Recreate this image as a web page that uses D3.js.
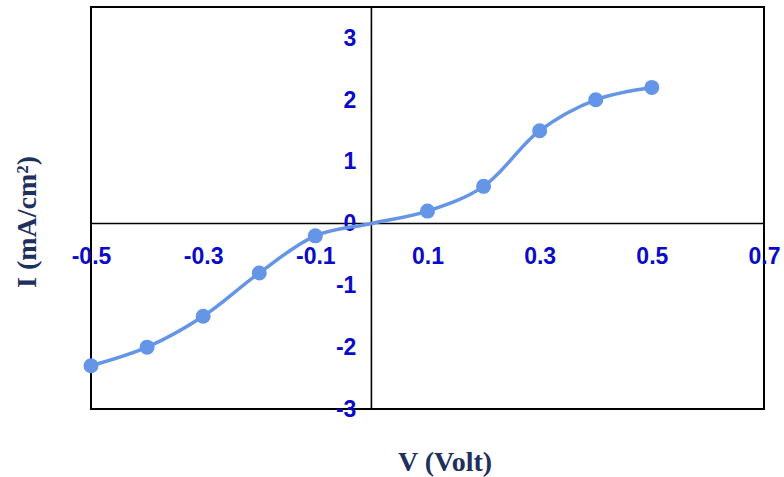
<!DOCTYPE html>
<html>
<head>
<meta charset="utf-8">
<script src="https://cdn.jsdelivr.net/npm/d3@7"></script>
<style>
  body { margin: 0; background: #fff; }
</style>
</head>
<body>
<div id="chart"></div>
<script>
// Data
var voltage = [-0.5, -0.4, -0.3, -0.2, -0.1, 0, 0.1, 0.2, 0.3, 0.4, 0.5];
var current = [-2.3, -2.0, -1.5, -0.8, -0.2, 0, 0.2, 0.6, 1.5, 2.0, 2.2];
var hasMarker = [true, true, true, true, true, false, true, true, true, true, true];
var xTicks = [-0.5, -0.3, -0.1, 0.1, 0.3, 0.5, 0.7];
var yTicks = [-3, -2, -1, 0, 1, 2, 3];

var width = 784, height = 477;
var plotLeft = 91, plotRight = 764, plotTop = 7, plotBottom = 409;

var svg = d3.select('#chart')
            .append('svg')
            .attr('width', width)
            .attr('height', height);

var xScale = d3.scaleLinear().domain([-0.5, 0.7]).range([plotLeft, plotRight]);
var yScale = d3.scaleLinear().domain([-3, 3.5]).range([plotBottom, plotTop]);

var data = voltage.map(function(v, i) {
  return { v: v, i: current[i], m: hasMarker[i] };
});

// plain hyphen minus like the reference
function fmt(p) {
  return function(d) { return d.toFixed(p); };
}

// plot box
svg.append('rect')
   .attr('x', plotLeft).attr('y', plotTop)
   .attr('width', plotRight - plotLeft).attr('height', plotBottom - plotTop)
   .attr('fill', 'none').attr('stroke', '#000').attr('stroke-width', 2);

// axes through zero
var xAxis = d3.axisBottom(xScale)
              .tickValues(xTicks)
              .tickSize(0)
              .tickPadding(24)
              .tickFormat(fmt(1));

var yAxis = d3.axisLeft(yScale)
              .tickValues(yTicks)
              .tickSize(0)
              .tickPadding(15)
              .tickFormat(fmt(0));

var gx = svg.append('g')
   .attr('transform', 'translate(0,' + yScale(0) + ')')
   .call(xAxis);

var gy = svg.append('g')
   .attr('transform', 'translate(' + xScale(0) + ',0)')
   .call(yAxis);

[gx, gy].forEach(function(g) {
  g.select('.domain').attr('stroke', '#000').attr('stroke-width', 1.6);
  g.selectAll('text')
   .attr('fill', '#0a0ac8')
   .style('font-family', '"Liberation Sans", Arial, sans-serif')
   .style('font-weight', 'bold')
   .style('font-size', '23px');
});
gx.select('.domain').attr('d', 'M' + plotLeft + ',0H' + plotRight);
gy.select('.domain').attr('d', 'M0,' + plotTop + 'V' + plotBottom);

// curve
var line = d3.line()
             .x(function(d) { return xScale(d.v); })
             .y(function(d) { return yScale(d.i); })
             .curve(d3.curveCatmullRom.alpha(0.5));

svg.append('path')
   .datum(data)
   .attr('d', line)
   .attr('fill', 'none')
   .attr('stroke', '#6495e6')
   .attr('stroke-width', 3.5);

svg.append('g')
   .selectAll('circle')
   .data(data.filter(function(d) { return d.m; }))
   .enter()
   .append('circle')
   .attr('cx', function(d) { return xScale(d.v); })
   .attr('cy', function(d) { return yScale(d.i); })
   .attr('r', 7.5)
   .attr('fill', '#6495e6');

// axis titles
svg.append('text')
   .attr('x', 445).attr('y', 471)
   .attr('text-anchor', 'middle')
   .attr('fill', '#1f2f5e')
   .style('font-family', '"Liberation Serif", "Times New Roman", serif')
   .style('font-weight', 'bold')
   .style('font-size', '28px')
   .text('V (Volt)');

svg.append('text')
   .attr('transform', 'translate(36,222) rotate(-90)')
   .attr('text-anchor', 'middle')
   .attr('fill', '#1f2f5e')
   .style('font-family', '"Liberation Serif", "Times New Roman", serif')
   .style('font-weight', 'bold')
   .style('font-size', '28px')
   .text('I (mA/cm²)');
</script>
</body>
</html>
